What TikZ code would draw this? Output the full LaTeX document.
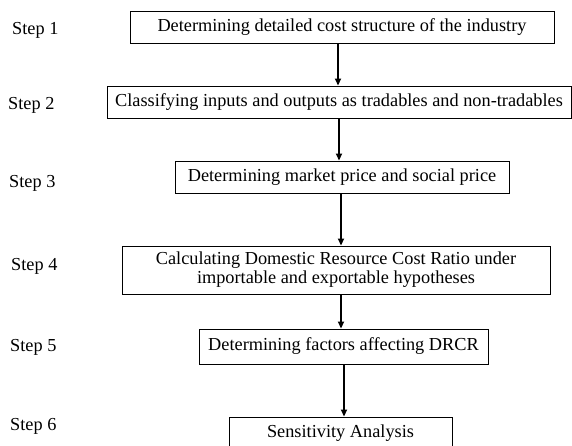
\documentclass[tikz,border=0pt]{standalone}
\usepackage{fontspec}
\setmainfont{Liberation Serif}
\usetikzlibrary{arrows.meta}
\begin{document}
\begin{tikzpicture}[x=1pt,y=-1pt,
  box/.style={draw, line width=0.9pt, inner sep=0pt, align=center, font=\fontsize{18.3}{19}\selectfont},
  lbl/.style={inner sep=0pt, anchor=west, font=\fontsize{18.3}{20}\selectfont},
  arr/.style={line width=1.7pt, -{Triangle[length=7pt,width=6pt]}}]
\useasboundingbox (0,0) rectangle (572,445);
% boxes
\node[box, minimum width=424pt, minimum height=32pt] (b1) at (342,27) {Determining detailed cost structure of the industry};
\node[box, minimum width=464pt, minimum height=32pt] (b2) at (339,102) {Classifying inputs and outputs as tradables and non-tradables};
\node[box, minimum width=334pt, minimum height=32pt] (b3) at (342,177) {Determining market price and social price};
\node[box, minimum width=428pt, minimum height=48pt] (b4) at (336,270) {Calculating Domestic Resource Cost Ratio under\\importable and exportable hypotheses};
\node[box, minimum width=289pt, minimum height=35pt] (b5) at (343.5,346.5) {Determining factors affecting DRCR};
\node[box, minimum width=223pt, minimum height=33pt] (b6) at (340.5,433.5) {Sensitivity Analysis};
% step labels
\node[lbl] (s1) at (12,30) {Step 1};
\node[lbl] (s2) at (8,105) {Step 2};
\node[lbl] (s3) at (9,183) {Step 3};
\node[lbl] (s4) at (11,266) {Step 4};
\node[lbl] (s5) at (10,347) {Step 5};
\node[lbl] (s6) at (10,426) {Step 6};
% arrow x positions
\coordinate (a1) at (338,0);
\coordinate (a2) at (339,0);
\coordinate (a3) at (341,0);
\coordinate (a4) at (341,0);
\coordinate (a5) at (344,0);
\draw[arr] (b1.south -| a1) -- (b2.north -| a1);
\draw[arr] (b2.south -| a2) -- (b3.north -| a2);
\draw[arr] (b3.south -| a3) -- (b4.north -| a3);
\draw[arr] (b4.south -| a4) -- (b5.north -| a4);
\draw[arr] (b5.south -| a5) -- (b6.north -| a5);
\end{tikzpicture}
\end{document}
